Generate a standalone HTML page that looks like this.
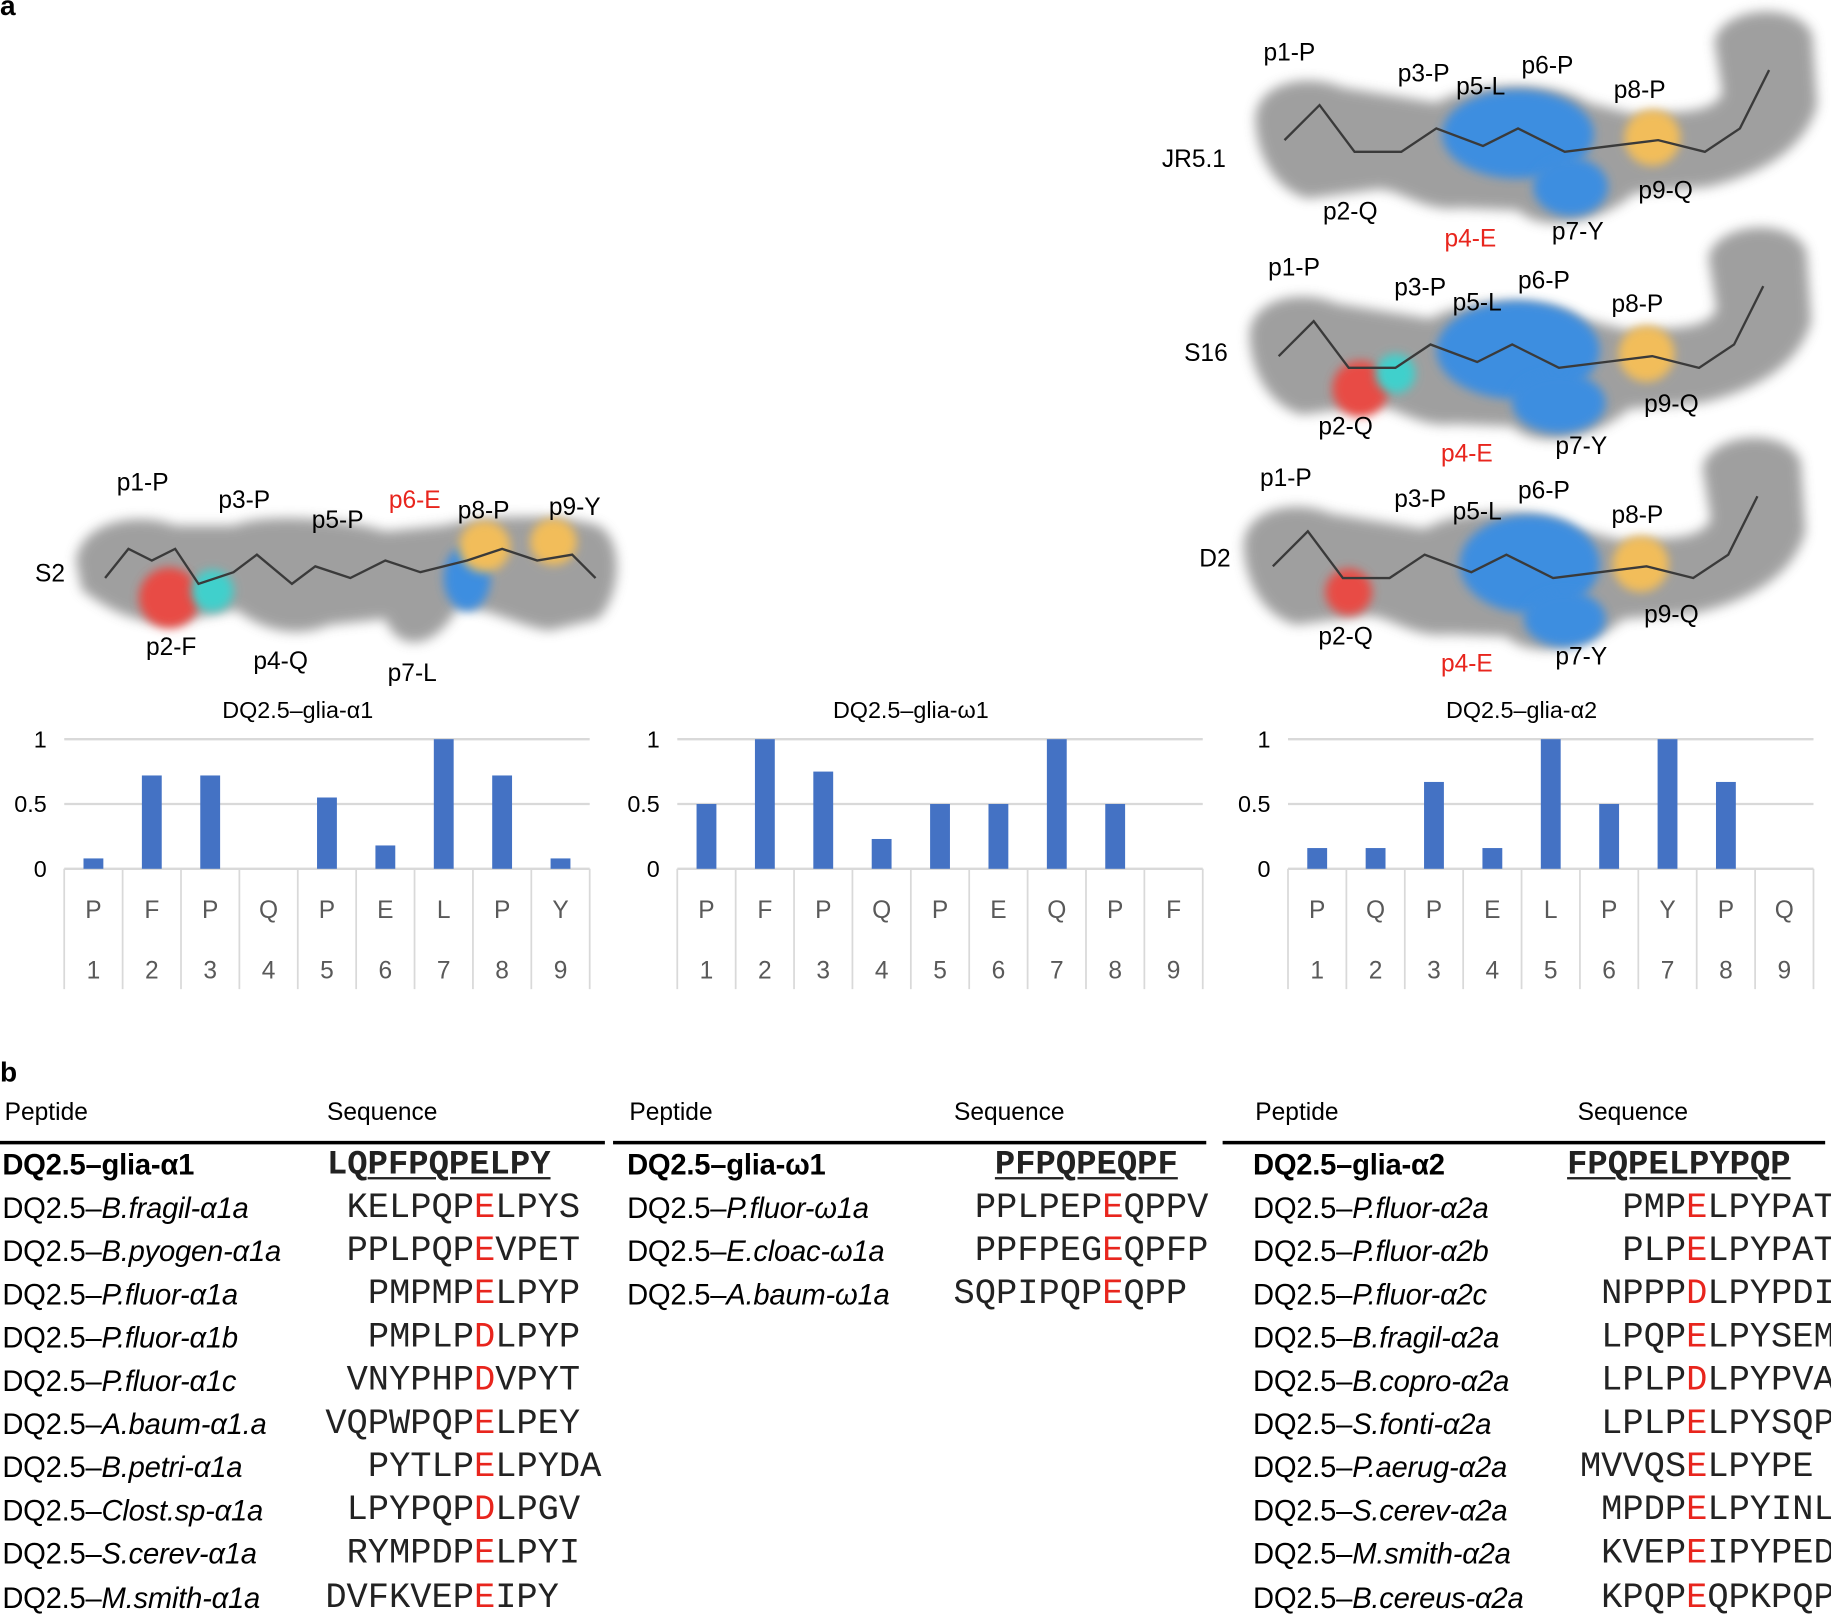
<!DOCTYPE html>
<html><head><meta charset="utf-8">
<style>
html,body{margin:0;padding:0;background:#fff;}
body{width:1831px;height:1612px;overflow:hidden;position:relative;}
#root{position:absolute;left:0;top:0;width:1568px;height:1381px;transform:scale(1.16773);transform-origin:0 0;font-family:"Liberation Sans",sans-serif;}
.t{position:absolute;white-space:nowrap;}
.nm{font-family:"Liberation Sans",sans-serif;font-size:25px;color:#000;letter-spacing:-0.2px;}
.sq{font-family:"Liberation Mono",monospace;font-size:30.3px;color:#222;}
.red{color:#e8251d;}
</style></head>
<body>
<div id="root">
<div class="t" style="left:0;top:-8px;font-weight:bold;font-size:24px">a</div>
<div class="t" style="left:0;top:905px;font-weight:bold;font-size:24px">b</div>

<svg id="mol" width="1568" height="600" style="position:absolute;left:0;top:0">
<defs>
<filter id="bl" x="-20%" y="-20%" width="140%" height="140%"><feGaussianBlur stdDeviation="5"/></filter>
<filter id="bl2" x="-50%" y="-50%" width="200%" height="200%"><feGaussianBlur stdDeviation="4"/></filter>
<g id="jrblob">
<path d="M1075,100 C1078,70 1120,62 1150,75 L1230,88 C1260,70 1330,68 1360,88 L1400,98 C1440,95 1465,98 1475,80 L1468,35 C1475,5 1540,0 1552,30 L1556,90 C1545,130 1505,150 1462,160 L1400,165 C1370,192 1320,200 1300,180 L1250,178 C1220,182 1200,162 1180,162 L1120,170 C1090,162 1075,130 1075,100 Z" fill="#8f8f8f" opacity="0.85" filter="url(#bl)"/>
</g>
</defs>
<g>
<path d="M65,480 C70,445 120,438 150,450 L200,450 C230,438 300,445 330,455 L380,450 C420,440 480,440 512,450 C535,462 532,510 512,530 L470,540 C440,535 420,520 392,520 C372,558 340,558 330,530 L282,535 C252,548 222,538 202,522 L162,530 C120,540 90,520 70,505 Z" fill="#8f8f8f" opacity="0.85" filter="url(#bl)"/>
<circle cx="145" cy="512" r="26" fill="#e84b45" filter="url(#bl2)"/>
<circle cx="182" cy="506" r="18" fill="#3fd0cc" filter="url(#bl2)"/>
<ellipse cx="400" cy="495" rx="20" ry="28" fill="#3d8ee0" filter="url(#bl2)"/>
<circle cx="415" cy="468" r="22" fill="#f2bd5a" filter="url(#bl2)"/>
<circle cx="474" cy="464" r="20" fill="#f2bd5a" filter="url(#bl2)"/>
<polyline points="90,495 110,470 130,480 150,470 170,500 200,490 220,475 250,500 270,485 300,495 330,480 360,490 400,480 430,470 460,480 490,475 510,495" fill="none" stroke="#3a3a3a" stroke-width="2"/>
</g>
<g>
<use href="#jrblob"/>
<ellipse cx="1300" cy="115" rx="65" ry="38" fill="#3d8ee0" filter="url(#bl2)"/>
<ellipse cx="1345" cy="160" rx="32" ry="25" fill="#3d8ee0" filter="url(#bl2)"/>
<circle cx="1415" cy="118" r="24" fill="#f2bd5a" filter="url(#bl2)"/>
<polyline points="1100,120 1130,90 1160,130 1200,130 1230,110 1270,125 1300,110 1340,130 1380,125 1420,120 1460,130 1490,110 1515,60" fill="none" stroke="#3a3a3a" stroke-width="2"/>
</g>
<g transform="translate(-5,185)">
<use href="#jrblob"/>
<ellipse cx="1305" cy="115" rx="70" ry="42" fill="#3d8ee0" filter="url(#bl2)"/>
<ellipse cx="1340" cy="160" rx="40" ry="26" fill="#3d8ee0" filter="url(#bl2)"/>
<circle cx="1170" cy="148" r="24" fill="#e84b45" filter="url(#bl2)"/>
<circle cx="1200" cy="135" r="17" fill="#3fd0cc" filter="url(#bl2)"/>
<circle cx="1415" cy="118" r="24" fill="#f2bd5a" filter="url(#bl2)"/>
<polyline points="1100,120 1130,90 1160,130 1200,130 1230,110 1270,125 1300,110 1340,130 1380,125 1420,120 1460,130 1490,110 1515,60" fill="none" stroke="#3a3a3a" stroke-width="2"/>
</g>
<g transform="translate(-10,365)">
<use href="#jrblob"/>
<ellipse cx="1320" cy="118" rx="60" ry="42" fill="#3d8ee0" filter="url(#bl2)"/>
<ellipse cx="1350" cy="165" rx="35" ry="24" fill="#3d8ee0" filter="url(#bl2)"/>
<circle cx="1165" cy="142" r="20" fill="#e84b45" filter="url(#bl2)"/>
<circle cx="1415" cy="118" r="24" fill="#f2bd5a" filter="url(#bl2)"/>
<polyline points="1100,120 1130,90 1160,130 1200,130 1230,110 1270,125 1300,110 1340,130 1380,125 1420,120 1460,130 1490,110 1515,60" fill="none" stroke="#3a3a3a" stroke-width="2"/>
</g>
</svg>

<svg id="charts" width="1568" height="870" style="position:absolute;left:0;top:0"></svg>
<div id="table"></div>
</div>

<script>
const categoriesA1 = ["P","F","P","Q","P","E","L","P","Y"];
const valuesA1 = [0.08,0.72,0.72,0,0.55,0.18,1,0.72,0.08];
const categoriesW1 = ["P","F","P","Q","P","E","Q","P","F"];
const valuesW1 = [0.5,1,0.75,0.23,0.5,0.5,1,0.5,0];
const categoriesA2 = ["P","Q","P","E","L","P","Y","P","Q"];
const valuesA2 = [0.16,0.16,0.67,0.16,1,0.5,1,0.67,0];
const positions = ["1","2","3","4","5","6","7","8","9"];
const yTicks = [0,0.5,1];
const yTickLabels = ["0","0.5","1"];
const chartTitles = ["DQ2.5\u2013glia-\u03b11","DQ2.5\u2013glia-\u03c91","DQ2.5\u2013glia-\u03b12"];

const NS="http://www.w3.org/2000/svg";
const svg=document.getElementById('charts');
function mk(tag,attrs,parent){const e=document.createElementNS(NS,tag);for(const k in attrs)e.setAttribute(k,attrs[k]);(parent||svg).appendChild(e);return e;}

const chartX=[55,580,1103];
const plotW=450, yTop=633, yBot=744;
function yScale(v){return yBot-(yBot-yTop)*v;}

const molLabels=[
 [30,498,"S2","#000"],[100,420,"p1-P","#000"],[187,435,"p3-P","#000"],[267,452,"p5-P","#000"],[333,435,"p6-E","#e8251d"],[392,444,"p8-P","#000"],[470,441,"p9-Y","#000"],[125,561,"p2-F","#000"],[217,573,"p4-Q","#000"],[332,583,"p7-L","#000"],
 [995,143,"JR5.1","#000"],[1082,52,"p1-P","#000"],[1197,70,"p3-P","#000"],[1247,81,"p5-L","#000"],[1303,63,"p6-P","#000"],[1382,84,"p8-P","#000"],[1403,170,"p9-Q","#000"],[1133,188,"p2-Q","#000"],[1237,211,"p4-E","#e8251d"],[1329,205,"p7-Y","#000"],
 [1014,309,"S16","#000"],[1086,236,"p1-P","#000"],[1194,253,"p3-P","#000"],[1244,266,"p5-L","#000"],[1300,247,"p6-P","#000"],[1380,267,"p8-P","#000"],[1408,353,"p9-Q","#000"],[1129,372,"p2-Q","#000"],[1234,395,"p4-E","#e8251d"],[1332,389,"p7-Y","#000"],
 [1027,485,"D2","#000"],[1079,416,"p1-P","#000"],[1194,434,"p3-P","#000"],[1244,445,"p5-L","#000"],[1300,427,"p6-P","#000"],[1380,448,"p8-P","#000"],[1408,533,"p9-Q","#000"],[1129,552,"p2-Q","#000"],[1234,575,"p4-E","#e8251d"],[1332,569,"p7-Y","#000"]
];
const molSvg=document.getElementById('mol');
molLabels.forEach(l=>{
 const t=document.createElementNS(NS,'text');
 t.setAttribute('x',l[0]);t.setAttribute('y',l[1]);t.setAttribute('font-size','21');t.setAttribute('fill',l[3]);t.setAttribute('font-family','Liberation Sans, sans-serif');
 t.textContent=l[2];
 
 
 molSvg.appendChild(t);
});

function drawChart(i,cats,vals){
 const x0=chartX[i];const cw=plotW/cats.length;
 const g=mk('g',{});
 
 
 const title=mk('text',{x:x0+plotW/2-25,y:615,'text-anchor':'middle','font-size':'20','fill':'#000','font-family':'Liberation Sans, sans-serif'},g);
 title.textContent=chartTitles[i];
 
 
 yTicks.forEach((v,k)=>{
  const gl=mk('line',{x1:x0,x2:x0+plotW,y1:yScale(v),y2:yScale(v),stroke:'#d9d9d9','stroke-width':'2'},g);
  
  
  const tl=mk('text',{x:x0-15,y:yScale(v)+7,'text-anchor':'end','font-size':'20','fill':'#000','font-family':'Liberation Sans, sans-serif'},g);
  tl.textContent=yTickLabels[k];
  
  
 });
 for(let k=0;k<=cats.length;k++){
  const vl=mk('line',{x1:x0+k*cw,x2:x0+k*cw,y1:yBot,y2:847,stroke:'#d9d9d9','stroke-width':'1.5'},g);
  
  
 }
 cats.forEach((c,k)=>{
  const cx=x0+k*cw+cw/2;
  const h=yBot-yScale(vals[k]);
  const b=mk('rect',{x:cx-8.5,y:yScale(vals[k]),width:17,height:h,fill:'#4472c4'},g);
  
  
  const ct=mk('text',{x:cx,y:786,'text-anchor':'middle','font-size':'21','fill':'#595959','font-family':'Liberation Sans, sans-serif'},g);
  ct.textContent=c;
  
  
  const nt=mk('text',{x:cx,y:838,'text-anchor':'middle','font-size':'21','fill':'#595959','font-family':'Liberation Sans, sans-serif'},g);
  nt.textContent=positions[k];
  
  
 });
}
drawChart(0,categoriesA1,valuesA1);
drawChart(1,categoriesW1,valuesW1);
drawChart(2,categoriesA2,valuesA2);

const cols=[
 {px:2,sx:280,ex:406,line:[0,518],hx:[4,280],head:"LQPFPQPELPY",ulFrom:2,
  rows:[["B.fragil-\u03b11a","KELPQPELPYS",6],["B.pyogen-\u03b11a","PPLPQPEVPET",6],["P.fluor-\u03b11a","PMPMPELPYP",5],["P.fluor-\u03b11b","PMPLPDLPYP",5],["P.fluor-\u03b11c","VNYPHPDVPYT",6],["A.baum-\u03b11.a","VQPWPQPELPEY",7],["B.petri-\u03b11a","PYTLPELPYDA",5],["Clost.sp-\u03b11a","LPYPQPDLPGV",6],["S.cerev-\u03b11a","RYMPDPELPYI",6],["M.smith-\u03b11a","DVFKVEPEIPY",7]],hname:"DQ2.5\u2013glia-\u03b11"},
 {px:537,sx:852,ex:944,line:[525,1033],hx:[539,817],head:"PFPQPEQPF",ulFrom:0,
  rows:[["P.fluor-\u03c91a","PPLPEPEQPPV",6],["E.cloac-\u03c91a","PPFPEGEQPFP",6],["A.baum-\u03c91a","SQPIPQPEQPP",7]],hname:"DQ2.5\u2013glia-\u03c91"},
 {px:1073,sx:1342,ex:1444,line:[1047,1563],hx:[1075,1351],head:"FPQPELPYPQP",ulFrom:0,
  rows:[["P.fluor-\u03b12a","PMPELPYPAT",3],["P.fluor-\u03b12b","PLPELPYPAT",3],["P.fluor-\u03b12c","NPPPDLPYPDI",4],["B.fragil-\u03b12a","LPQPELPYSEM",4],["B.copro-\u03b12a","LPLPDLPYPVA",4],["S.fonti-\u03b12a","LPLPELPYSQP",4],["P.aerug-\u03b12a","MVVQSELPYPE",5],["S.cerev-\u03b12a","MPDPELPYINL",4],["M.smith-\u03b12a","KVEPEIPYPED",4],["B.cereus-\u03b12a","KPQPEQPKPQP",4]],hname:"DQ2.5\u2013glia-\u03b12"}
];
const root=document.getElementById('root');
const CW=18.2, rowY0=998, rowStep=37.05;
function div(cls,x,yc,html){const d=document.createElement('div');d.className='t '+cls;d.style.left=x+'px';d.style.top=(yc-17)+'px';d.style.lineHeight='34px';d.innerHTML=html;root.appendChild(d);return d;}
cols.forEach((c,ci)=>{
 let h=div('',c.hx[0],953,'Peptide');h.style.fontSize='21px';
 
 
 h=div('',c.hx[1],953,'Sequence');h.style.fontSize='21px';
 
 
 const ln=document.createElement('div');ln.style.cssText='position:absolute;left:'+c.line[0]+'px;top:977px;width:'+(c.line[1]-c.line[0])+'px;height:3px;background:#000';root.appendChild(ln);
 
 
 let n=div('nm',c.px,rowY0,c.hname);n.style.fontWeight='bold';
 
 
 const hs=c.head.slice(0,c.ulFrom)+'<span style="text-decoration:underline;text-decoration-thickness:2px;text-underline-offset:3px">'+c.head.slice(c.ulFrom)+'</span>';
 let s=div('sq',c.sx,rowY0,hs);s.style.fontWeight='bold';s.style.fontSize='29px';
 
 
 c.rows.forEach((r,ri)=>{
  const y=rowY0+(ri+1)*rowStep;
  const nn=div('nm',c.px,y,'DQ2.5\u2013<i>'+r[0]+'</i>');
  
  
  const seq=r[1],k=r[2];
  const ss=div('sq',c.ex-k*CW,y,seq.slice(0,k)+'<span class="red">'+seq[k]+'</span>'+seq.slice(k+1));
  
  
 });
});
</script>
</body></html>
